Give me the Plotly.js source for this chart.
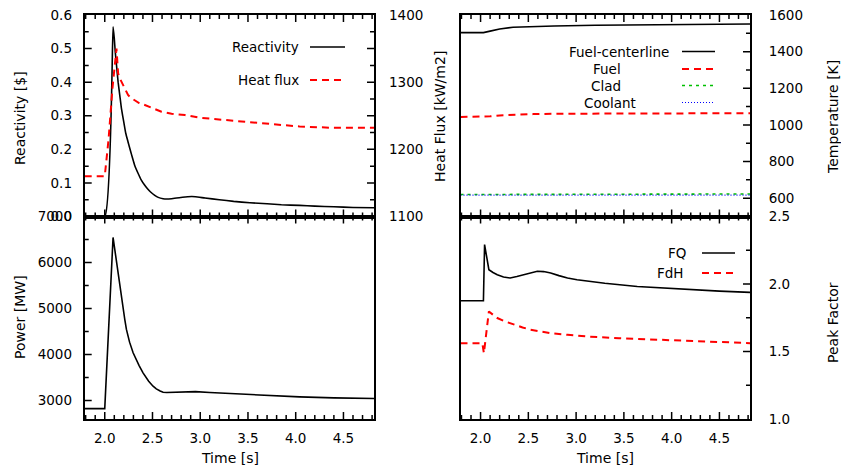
<!DOCTYPE html>
<html>
<head>
<meta charset="utf-8">
<script src="https://cdn.plot.ly/plotly-3.0.1.min.js"></script>
<style>html,body{margin:0;padding:0;background:#fff;}#chart{width:841px;height:470px;}</style>
</head>
<body>
<div id="chart"></div>
<script>
// ---- Top-left: reactivity ($) and heat flux (kW/m2)
const tReact = [1.79, 2.00, 2.087, 2.10, 2.11, 2.123, 2.14, 2.16, 2.175, 2.20, 2.22, 2.244, 2.27, 2.29, 2.314, 2.35, 2.38, 2.419, 2.45, 2.48, 2.524, 2.56, 2.611, 2.65, 2.70, 2.78, 2.87, 2.95, 3.05, 3.2, 3.35, 3.52, 3.7, 3.85, 4.04, 4.2, 4.4, 4.6, 4.82];
const reactivity = [0.0, 0.0, 0.565, 0.53, 0.49, 0.451, 0.40, 0.355, 0.321, 0.28, 0.248, 0.222, 0.195, 0.175, 0.152, 0.128, 0.11, 0.093, 0.082, 0.073, 0.063, 0.057, 0.053, 0.052, 0.053, 0.056, 0.059, 0.059, 0.055, 0.050, 0.045, 0.041, 0.038, 0.035, 0.033, 0.031, 0.029, 0.027, 0.026];
const tFlux = [1.79, 2.00, 2.04, 2.08, 2.123, 2.14, 2.16, 2.19, 2.22, 2.244, 2.27, 2.30, 2.33, 2.36, 2.42, 2.50, 2.594, 2.70, 2.84, 2.995, 3.25, 3.52, 3.8, 4.04, 4.4, 4.82];
const heatFlux = [1160, 1160, 1215, 1290, 1350, 1313, 1305, 1296, 1287, 1281, 1277, 1274, 1271, 1269, 1266, 1261, 1256, 1253, 1251, 1247, 1244, 1241, 1237, 1234, 1232, 1232];

// ---- Bottom-left: power (MW)
const tPower = [1.79, 2.00, 2.087, 2.10, 2.12, 2.14, 2.157, 2.175, 2.19, 2.21, 2.227, 2.26, 2.297, 2.33, 2.36, 2.401, 2.43, 2.46, 2.506, 2.54, 2.58, 2.611, 2.65, 2.75, 2.85, 2.95, 3.1, 3.3, 3.52, 3.8, 4.04, 4.4, 4.82];
const power = [2826, 2826, 6545, 6350, 6000, 5730, 5490, 5220, 5000, 4760, 4547, 4270, 4039, 3880, 3760, 3603, 3510, 3420, 3312, 3255, 3210, 3181, 3175, 3185, 3195, 3195, 3175, 3155, 3130, 3100, 3080, 3060, 3044];

// ---- Top-right: temperatures (K)
const tTemp = [1.79, 2.03, 2.10, 2.20, 2.34, 2.55, 2.77, 3.2, 3.82, 4.3, 4.82];
const fuelCenterline = [1504, 1504, 1512, 1524, 1533, 1537, 1540, 1544, 1548, 1550, 1551];
const fuelTemp = [1043, 1043, 1047, 1052, 1056, 1059, 1061, 1062, 1063, 1064, 1064];
const cladTemp = [620, 620, 620, 621, 622, 622, 623, 623, 623, 623, 623];
const coolantTemp = [617, 617, 617, 617, 617, 617, 617, 617, 617, 617, 617];

// ---- Bottom-right: peak factors
const tFQ = [1.79, 2.03, 2.042, 2.087, 2.13, 2.175, 2.24, 2.31, 2.38, 2.454, 2.52, 2.594, 2.66, 2.734, 2.82, 2.91, 3.01, 3.3, 3.64, 4.17, 4.5, 4.82];
const FQ = [1.876, 1.876, 2.292, 2.106, 2.085, 2.069, 2.052, 2.044, 2.055, 2.069, 2.085, 2.094, 2.092, 2.082, 2.062, 2.044, 2.032, 2.005, 1.982, 1.958, 1.947, 1.938];
const tFdH = [1.79, 2.018, 2.035, 2.087, 2.13, 2.175, 2.26, 2.35, 2.44, 2.524, 2.63, 2.734, 2.91, 3.12, 3.45, 3.82, 4.3, 4.82];
const FdH = [1.562, 1.562, 1.488, 1.797, 1.772, 1.748, 1.722, 1.698, 1.678, 1.661, 1.647, 1.636, 1.624, 1.611, 1.598, 1.587, 1.574, 1.562];

// ---- axis ranges
const xRange = [1.79, 4.82];
const reactRange = [0, 0.6], fluxRange = [1100, 1400], powerRange = [2600, 7000];
const tempRange = [500, 1600], pfRange = [1.0, 2.5];

const W = 841, H = 470;
const px = v => v / W;
const py = v => 1 - v / H;
const FONT = 'DejaVu Sans';
const RED = '#ff0000', GREEN = '#00c000', BLUE = '#0000ff';
const DASH = '7px,5px';

const traces = [
  {x: tReact, y: reactivity, xaxis: 'x2', yaxis: 'y2', mode: 'lines', line: {color: '#000', width: 1.6, shape: 'spline', smoothing: 0.4}, name: 'Reactivity'},
  {x: tFlux, y: heatFlux, xaxis: 'x2', yaxis: 'y3', mode: 'lines', line: {color: RED, width: 2, dash: DASH}, name: 'Heat flux'},
  {x: tPower, y: power, xaxis: 'x', yaxis: 'y', mode: 'lines', line: {color: '#000', width: 1.6}, name: 'Power'},
  {x: tTemp, y: fuelCenterline, xaxis: 'x4', yaxis: 'y5', mode: 'lines', line: {color: '#000', width: 1.6}, name: 'Fuel-centerline'},
  {x: tTemp, y: fuelTemp, xaxis: 'x4', yaxis: 'y5', mode: 'lines', line: {color: RED, width: 2, dash: DASH}, name: 'Fuel'},
  {x: tTemp, y: cladTemp, xaxis: 'x4', yaxis: 'y5', mode: 'lines', line: {color: GREEN, width: 1.6, dash: '3px,4px'}, name: 'Clad'},
  {x: tTemp, y: coolantTemp, xaxis: 'x4', yaxis: 'y5', mode: 'lines', line: {color: BLUE, width: 1.2, dash: '1px,2px'}, name: 'Coolant'},
  {x: tFQ, y: FQ, xaxis: 'x3', yaxis: 'y4', mode: 'lines', line: {color: '#000', width: 1.6}, name: 'FQ'},
  {x: tFdH, y: FdH, xaxis: 'x3', yaxis: 'y4', mode: 'lines', line: {color: RED, width: 2, dash: DASH}, name: 'FdH'}
];

// ---- inward tick marks (gnuplot style), built from the axis ranges and tick steps
const PANEL_W = 289.3, PANEL_H = 202, MAJ_LEN = 7, MIN_LEN = 4;
function tickTrace(xa, ya, xr, yr, ySpec) {
  const xs = [], ys = [];
  for (let k = 18; k <= 48; k++) {
    const v = k / 10, len = (k % 5 === 0 ? MAJ_LEN : MIN_LEN);
    const dy = len / PANEL_H * (yr[1] - yr[0]);
    xs.push(v, v, null, v, v, null);
    ys.push(yr[0], yr[0] + dy, null, yr[1], yr[1] - dy, null);
  }
  const n = Math.round((ySpec.stop - ySpec.start) / ySpec.step);
  for (let i = 0; i <= n; i++) {
    const v = ySpec.start + i * ySpec.step;
    const r = v / ySpec.major;
    const len = Math.abs(r - Math.round(r)) < 1e-6 ? MAJ_LEN : MIN_LEN;
    const dx = len / PANEL_W * (xr[1] - xr[0]);
    ySpec.sides.forEach(function (side) {
      if (side === 'left') { xs.push(xr[0], xr[0] + dx, null); }
      else { xs.push(xr[1], xr[1] - dx, null); }
      ys.push(v, v, null);
    });
  }
  return {x: xs, y: ys, xaxis: xa, yaxis: ya, mode: 'lines', line: {color: '#000', width: 1.5},
    hoverinfo: 'skip', showlegend: false, connectgaps: false};
}
traces.push(tickTrace('x2', 'y2', xRange, reactRange, {start: 0.05, stop: 0.55, step: 0.05, major: 0.1, sides: ['left', 'right']}));
traces.push(tickTrace('x', 'y', xRange, powerRange, {start: 3000, stop: 6500, step: 500, major: 1000, sides: ['left']}));
traces.push(tickTrace('x4', 'y5', xRange, tempRange, {start: 600, stop: 1500, step: 100, major: 200, sides: ['right']}));
traces.push(tickTrace('x3', 'y4', xRange, pfRange, {start: 1.25, stop: 2.25, step: 0.25, major: 0.5, sides: ['right']}));

const tickFont = {family: FONT, size: 13.5, color: '#000'};
function xAxis(domain, anchor, labels) {
  return {domain: domain, anchor: anchor, range: xRange, dtick: 0.5, tick0: 0, tickformat: '.1f', ticks: '',
    mirror: true, showline: true, linewidth: 2, linecolor: 'black',
    showgrid: false, zeroline: false, showticklabels: labels, tickfont: tickFont, ticklabelstandoff: 6};
}
const LX = [px(84.7), px(374)], RX = [px(460.5), px(750)];
const TOPD = [py(216.5), py(15)], BOTD = [py(419), py(216.5)];
const common = {showline: true, linewidth: 2, linecolor: 'black', showgrid: false, zeroline: false, tickfont: tickFont, ticks: '', mirror: true};

const layout = {
  width: W, height: H, margin: {l: 0, r: 0, t: 0, b: 0}, showlegend: false,
  paper_bgcolor: '#fff', plot_bgcolor: '#fff',
  font: {family: FONT, size: 13.5, color: '#000'},
  xaxis: xAxis(LX, 'y', true),
  xaxis2: xAxis(LX, 'y2', false),
  xaxis3: xAxis(RX, 'y4', true),
  xaxis4: xAxis(RX, 'y5', false),
  yaxis: Object.assign({domain: BOTD, anchor: 'x', range: powerRange, dtick: 1000, tick0: 0, ticklabelstandoff: 8}, common),
  yaxis2: Object.assign({domain: TOPD, anchor: 'x2', range: reactRange, dtick: 0.1, tick0: 0, tickformat: '.1f', ticklabelstandoff: 8}, common),
  yaxis3: {overlaying: 'y2', anchor: 'x2', side: 'right', range: fluxRange, dtick: 100, tick0: 0, ticks: '', showline: false,
    showgrid: false, zeroline: false, tickfont: tickFont, ticklabelstandoff: 14},
  yaxis4: Object.assign({domain: BOTD, anchor: 'x3', side: 'right', range: pfRange, dtick: 0.5, tick0: 0, tickformat: '.1f', ticklabelstandoff: 14}, common),
  yaxis5: Object.assign({domain: TOPD, anchor: 'x4', side: 'right', range: tempRange, dtick: 200, tick0: 0, ticklabelstandoff: 14}, common),
  annotations: [],
  shapes: []
};

function label(text, x, y, opts) {
  layout.annotations.push(Object.assign({text: text, x: px(x), y: py(y), xref: 'paper', yref: 'paper', showarrow: false,
    xanchor: 'center', yanchor: 'middle', font: {family: FONT, size: 14, color: '#000'}, borderpad: 0}, opts || {}));
}
label('Reactivity [$]', 20, 118, {textangle: -90});
label('Power [MW]', 20, 317, {textangle: -90});
label('Heat Flux [kW/m2]', 440, 117, {textangle: -90});
label('Temperature [K]', 833, 117, {textangle: -90});
label('Peak Factor', 833, 323, {textangle: -90});
label('Time [s]', 230, 458);
label('Time [s]', 605, 458);

function key(text, xr, y, color, dash, width, x0, x1) {
  label(text, xr, y, {xanchor: 'right', font: {family: FONT, size: 13.5, color: '#000'}});
  layout.shapes.push({type: 'line', xref: 'paper', yref: 'paper', x0: px(x0), x1: px(x1), y0: py(y), y1: py(y),
    line: {color: color, width: width, dash: dash}});
}
key('Reactivity', 300, 47, '#000', 'solid', 1.6, 310, 345);
key('Heat flux', 300, 80, RED, DASH, 2, 310, 345);
key('Fuel-centerline', 670, 51.5, '#000', 'solid', 1.6, 682, 715);
key('Fuel', 622, 69, RED, DASH, 2, 682, 715);
key('Clad', 622, 85.5, GREEN, '3px,4px', 1.6, 682, 715);
key('Coolant', 637, 102.5, BLUE, '1px,2px', 1.2, 682, 715);
key('FQ', 687, 253, '#000', 'solid', 1.6, 702, 735);
key('FdH', 685, 273, RED, DASH, 2, 702, 735);

Plotly.newPlot('chart', traces, layout, {displayModeBar: false});
</script>
</body>
</html>
